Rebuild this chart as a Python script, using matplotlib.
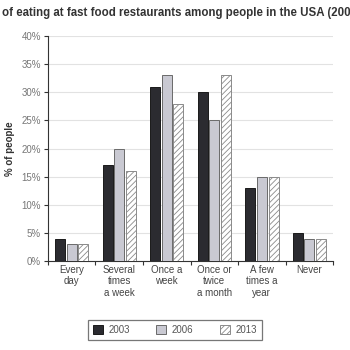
import numpy as np
import matplotlib
matplotlib.use("Agg")
from matplotlib import pyplot as plt
import matplotlib.ticker as mtick

categories = ["Every\nday", "Several\ntimes\na week", "Once a\nweek",
              "Once or\ntwice\na month", "A few\ntimes a\nyear", "Never"]
years = ["2003", "2006", "2013"]
v2003 = [4, 17, 31, 30, 13, 5]
v2006 = [3, 20, 33, 25, 15, 4]
v2013 = [3, 16, 28, 33, 15, 4]
yticks = [0, 5, 10, 15, 20, 25, 30, 35, 40]

plt.rcParams["font.family"] = ["Liberation Sans", "DejaVu Sans"]
plt.rcParams["hatch.color"] = "#b8b8b8"
plt.rcParams["hatch.linewidth"] = 0.6

fig = plt.figure(figsize=(3.5, 3.5), dpi=100)
ax = fig.add_axes([0.137, 0.254, 0.815, 0.643])

x = np.arange(len(categories))
w = 0.21
step = 0.245
styles = [
    dict(color="#2b2b30", edgecolor="#1a1a1a"),
    dict(color="#c9c9d2", edgecolor="#6a6a6a"),
    dict(color="white", edgecolor="#8a8a8a", hatch="//////"),
]
for i, (vals, st) in enumerate(zip([v2003, v2006, v2013], styles)):
    ax.bar(x + (i - 1) * step, vals, width=w, linewidth=0.7, label=years[i], zorder=3, **st)

ax.set_xlim(-0.5, 5.5)
ax.set_ylim(0, 40)
ax.set_yticks(yticks)
ax.yaxis.set_major_formatter(mtick.FormatStrFormatter("%d%%"))
ax.grid(axis="y", color="#e2e2e2", linewidth=0.8, zorder=0)
ax.set_axisbelow(True)

ax.set_xticks(np.arange(-0.5, 6, 1))
ax.set_xticklabels([])
ax.set_xticks(x, minor=True)
ax.set_xticklabels(categories, minor=True, fontsize=7, color="#444444", linespacing=1.15)
ax.tick_params(axis="x", which="minor", length=0, pad=3)
ax.tick_params(axis="x", which="major", length=3, color="#333333", width=0.8)
ax.tick_params(axis="y", length=3, color="#333333", width=0.8, labelsize=7, labelcolor="#777777", pad=2)

for s in ["top", "right"]:
    ax.spines[s].set_visible(False)
for s in ["left", "bottom"]:
    ax.spines[s].set_color("#333333")
    ax.spines[s].set_linewidth(0.8)

ax.set_ylabel("% of people", fontsize=7, fontweight="bold", color="#333333", labelpad=5)

fig.text(0.005, 0.963, "of eating at fast food restaurants among people in the USA (200",
         fontsize=8.3, fontweight="bold", color="#333333", ha="left", va="center")

leg = fig.legend(loc="center", bbox_to_anchor=(0.5, 0.057), ncol=3, fontsize=7,
                 frameon=True, fancybox=False, edgecolor="#555555",
                 handlelength=1.0, handleheight=1.0, columnspacing=2.7, handletextpad=0.6,
                 borderpad=0.5, borderaxespad=0)
leg.get_frame().set_linewidth(0.9)
for t in leg.get_texts():
    t.set_color("#555555")

fig.savefig("out.png", dpi=100, facecolor="white")
